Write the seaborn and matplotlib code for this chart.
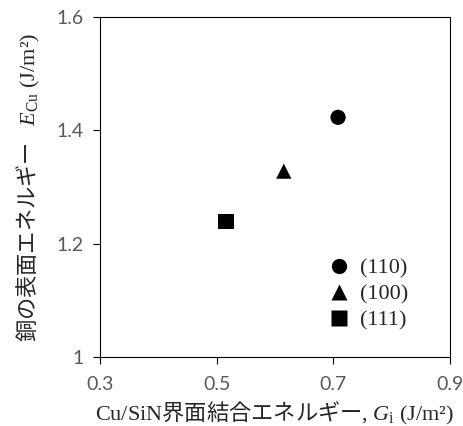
import matplotlib
matplotlib.use('Agg')
import matplotlib.pyplot as plt
import seaborn as sns
import pandas as pd

# Values
planes = ['(110)', '(100)', '(111)']
gi_values = [0.708, 0.615, 0.516]
ecu_values = [1.423, 1.328, 1.239]
plane_markers = {'(110)': 'o', '(100)': '^', '(111)': 's'}
x_ticks = [0.3, 0.5, 0.7, 0.9]
y_ticks = [1.0, 1.2, 1.4, 1.6]
y_tick_labels = ['1', '1.2', '1.4', '1.6']

df = pd.DataFrame({'plane': planes, 'Gi': gi_values, 'ECu': ecu_values})

sns.set_style('ticks')
plt.rcParams['font.family'] = ['Liberation Serif', 'Noto Sans CJK JP']
# mathtext: serif latin, CJK through \mathsf
plt.rcParams['mathtext.fontset'] = 'custom'
plt.rcParams['mathtext.rm'] = 'Liberation Serif'
plt.rcParams['mathtext.it'] = 'Liberation Serif:italic'
plt.rcParams['mathtext.sf'] = 'Noto Sans CJK JP'

fig = plt.figure(figsize=(4.64, 4.26), dpi=100)
ax = fig.add_axes([0.2155, 0.162, 0.7545, 0.798])

sns.scatterplot(data=df, x='Gi', y='ECu', style='plane', markers=plane_markers,
                color='black', s=120, edgecolor='none', ax=ax)

ax.set_xlim(0.3, 0.9)
ax.set_ylim(1.0, 1.6)
ax.set_xticks(x_ticks)
ax.set_xticklabels([f'{v:.1f}' for v in x_ticks])
ax.set_yticks(y_ticks)
ax.set_yticklabels(y_tick_labels)
for lab in ax.get_xticklabels() + ax.get_yticklabels():
    lab.set_family(['Lato', 'DejaVu Sans'])
    lab.set_fontsize(14)
    lab.set_color('#595959')
ax.tick_params(axis='both', length=5, width=0.8, color='black')
ax.tick_params(axis='x', pad=9)
ax.tick_params(axis='y', pad=7)
for sp in ax.spines.values():
    sp.set_linewidth(0.8)
    sp.set_color('black')

ax.set_xlabel(r'Cu/SiN$\mathsf{界面結合エネルギー}$, $G_\mathrm{i}$ (J/m²)',
              fontsize=16, labelpad=5)
ax.set_ylabel(r'$\mathsf{銅の表面エネルギー}$   $E_\mathrm{Cu}$ (J/m²)',
              fontsize=16, labelpad=10)

leg = ax.legend(loc='upper right', frameon=False, fontsize=16, handletextpad=0.45,
                handlelength=1.0, labelspacing=0.25, borderpad=0, borderaxespad=0,
                bbox_to_anchor=(0.88, 0.292))
for h in leg.legend_handles:
    h.set_markersize(11)

fig.savefig('out.png', dpi=100)
